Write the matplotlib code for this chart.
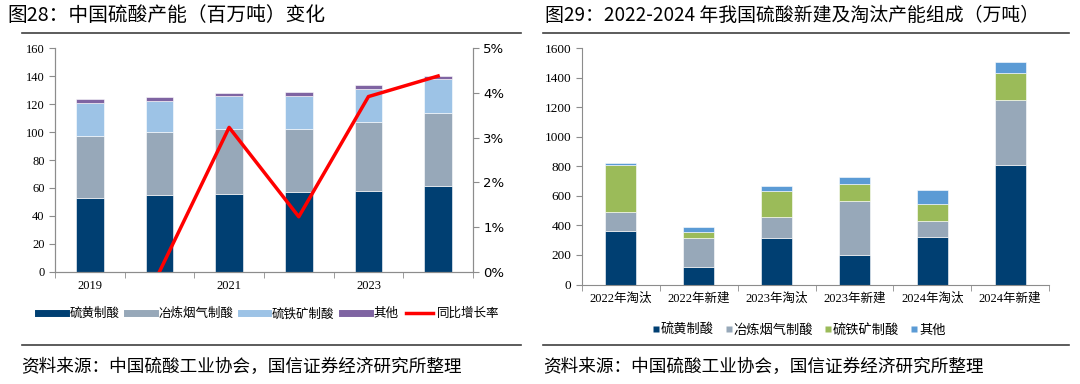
import numpy as np
import matplotlib.pyplot as plt
from matplotlib.lines import Line2D

plt.rcParams['font.family'] = ['Noto Sans CJK SC', 'DejaVu Sans']

# ---- data: left chart (百万吨) ----
years = ['2019', '2020', '2021', '2022', '2023', '2024']
sulfur = [53, 55, 56, 57, 58, 61.5]
smelter = [44, 45, 46, 45.5, 49, 52.5]
pyrite = [24, 22, 23.5, 23.5, 23.5, 24]
other_l = [3, 3, 2.5, 3, 3.5, 2.5]
yoy_years = ['2020', '2021', '2022', '2023', '2024']
yoy = [0.0, 3.23, 1.23, 3.92, 4.38]

# ---- data: right chart (万吨) ----
cats = ['2022年淘汰', '2022年新建', '2023年淘汰', '2023年新建', '2024年淘汰', '2024年新建']
r_sulfur = [365, 116, 313, 200, 324, 810]
r_smelter = [124, 197, 142, 368, 108, 440]
r_pyrite = [321, 45, 178, 113, 111, 185]
r_other = [11, 29, 37, 45, 97, 70]

c_dark = '#003f72'
c_gray = '#97a8b9'
c_light = '#9dc3e6'
c_purple = '#7f64a2'
c_green = '#9bbb59'
c_blue = '#5b9bd5'
spine_c = '#8c8c8c'
serif = ['Liberation Serif', 'Noto Sans CJK SC']

fig = plt.figure(figsize=(10.8, 3.84), dpi=100)

# ---------------- left chart ----------------
ax = fig.add_axes([0.0509, 0.2924, 0.387, 0.5818])
x = np.arange(len(years))
w = 0.4
b = np.zeros(len(years))
for vals, col, lab in [(sulfur, c_dark, '硫黄制酸'), (smelter, c_gray, '冶炼烟气制酸'),
                       (pyrite, c_light, '硫铁矿制酸'), (other_l, c_purple, '其他')]:
    ax.bar(x, vals, w, bottom=b, color=col, label=lab, edgecolor='white', linewidth=0.4)
    b += np.array(vals)
ax.set_xlim(-0.5, 5.5)
ax.set_ylim(0, 160)
ax.set_yticks(range(0, 161, 20))
ax.set_xticks([0, 2, 4])
ax.set_xticklabels(['2019', '2021', '2023'], family=serif, fontsize=9)
ax.set_xticks(np.arange(-0.5, 6, 1), minor=True)
ax.tick_params(axis='x', which='major', length=0, pad=6)
ax.tick_params(axis='x', which='minor', length=4, color=spine_c)
ax.tick_params(axis='y', length=4, color=spine_c, labelsize=9)
for t in ax.get_yticklabels():
    t.set_family(serif)
ax.spines['top'].set_visible(False)
for s in ['left', 'bottom', 'right']:
    ax.spines[s].set_color(spine_c)

ax2 = ax.twinx()
xi = [years.index(y) for y in yoy_years]
ax2.plot(xi, yoy, color='#ff0000', lw=2.5, label='同比增长率')
ax2.set_ylim(0, 5)
ax2.set_yticks(range(0, 6))
ax2.set_yticklabels([f'{v}%' for v in range(0, 6)], family=['DejaVu Sans'], fontsize=9.5)
ax2.tick_params(axis='y', length=4, color=spine_c)
ax2.spines['top'].set_visible(False)
for s in ['left', 'bottom', 'right']:
    ax2.spines[s].set_color(spine_c)

h1, l1 = ax.get_legend_handles_labels()
h2, l2 = ax2.get_legend_handles_labels()
hs = [Line2D([0], [0], color=hh.patches[0].get_facecolor(), lw=5) for hh in h1] + h2
fig.legend(hs, l1 + l2, loc='center', bbox_to_anchor=(0.249, 0.183), ncol=5, frameon=False,
           fontsize=9, handlelength=2.2, handletextpad=0.3, columnspacing=0.6)

# ---------------- right chart ----------------
rx = fig.add_axes([0.5389, 0.2591, 0.4324, 0.615])
xr = np.arange(len(cats))
b = np.zeros(len(cats))
for vals, col, lab in [(r_sulfur, c_dark, '硫黄制酸'), (r_smelter, c_gray, '冶炼烟气制酸'),
                       (r_pyrite, c_green, '硫铁矿制酸'), (r_other, c_blue, '其他')]:
    rx.bar(xr, vals, w, bottom=b, color=col, label=lab, edgecolor='white', linewidth=0.4)
    b += np.array(vals)
rx.set_xlim(-0.5, 5.5)
rx.set_ylim(0, 1600)
rx.set_yticks(range(0, 1601, 200))
rx.set_xticks(xr)
rx.set_xticklabels(cats, family=serif, fontsize=9)
rx.set_xticks(np.arange(-0.5, 6, 1), minor=True)
rx.tick_params(axis='x', which='major', length=0, pad=6)
rx.tick_params(axis='x', which='minor', length=4, color=spine_c)
rx.tick_params(axis='y', length=4, color=spine_c, labelsize=9.5)
for t in rx.get_yticklabels():
    t.set_family(serif)
rx.spines['top'].set_visible(False)
rx.spines['right'].set_visible(False)
for s in ['left', 'bottom']:
    rx.spines[s].set_color(spine_c)
rh, rl = rx.get_legend_handles_labels()
rhs = [Line2D([0], [0], marker='s', color='none', markerfacecolor=hh.patches[0].get_facecolor(),
              markeredgecolor='none', markersize=4.5) for hh in rh]
fig.legend(rhs, rl, loc='center', bbox_to_anchor=(0.74, 0.14), ncol=4, frameon=False,
           fontsize=9.5, handlelength=0.5, handletextpad=0.1, columnspacing=0.9)

# ---------------- titles, rules, sources ----------------
fig.text(0.007, 0.96, '图28：中国硫酸产能（百万吨）变化', fontsize=14.2, va='center')
fig.text(0.505, 0.96, '图29：2022-2024 年我国硫酸新建及淘汰产能组成（万吨）', fontsize=13.6, va='center')
for x0, x1 in [(0.02, 0.482), (0.503, 0.99)]:
    fig.add_artist(Line2D([x0, x1], [0.914, 0.914], color='#404040', lw=1.2))
    fig.add_artist(Line2D([x0, x1], [0.102, 0.102], color='#404040', lw=1.2))
fig.text(0.02, 0.045, '资料来源：中国硫酸工业协会，国信证券经济研究所整理', fontsize=12.7, va='center')
fig.text(0.503, 0.045, '资料来源：中国硫酸工业协会，国信证券经济研究所整理', fontsize=12.7, va='center')

fig.savefig('out.png', dpi=100)
